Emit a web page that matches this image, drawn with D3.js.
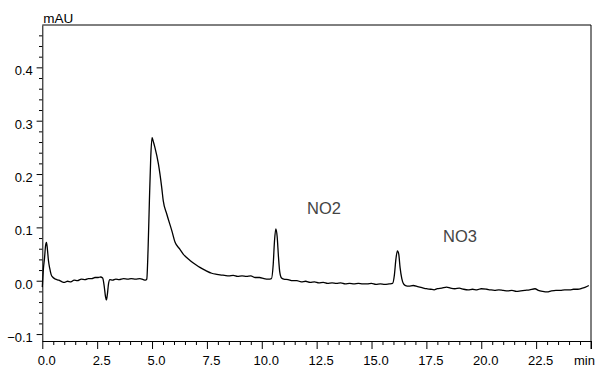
<!DOCTYPE html>
<html lang="en">
<head>
<meta charset="utf-8">
<title>Chromatogram NO2 NO3</title>
<style>
    body { margin: 0; background: #fff; }
    svg text { font-family: "Liberation Sans", Arial, sans-serif; }
</style>
<script src="https://d3js.org/d3.v7.min.js"></script>
</head>
<body>
<div id="viz"></div>
<script>

    // retention time (min) and signal (mAU)
    var times = [
        0.00, 0.05, 0.10, 0.15, 0.19, 0.23, 0.28, 0.34, 0.40, 0.49,
        0.60, 0.75, 0.90, 1.02, 1.15, 1.30, 1.45, 1.60, 1.78, 1.95,
        2.10, 2.25, 2.40, 2.55, 2.65, 2.75, 2.82, 2.88, 2.92, 2.96,
        3.02, 3.08, 3.20, 3.35, 3.50, 3.70, 3.90, 4.05, 4.25, 4.45,
        4.60, 4.70, 4.76, 4.82, 4.88, 4.94, 5.00, 5.05, 5.13, 5.29,
        5.44, 5.51, 5.67, 5.90, 6.05, 6.25, 6.42, 6.73, 7.03, 7.18,
        7.45, 7.72, 7.95, 8.10, 8.30, 8.50, 8.70, 8.90, 9.10, 9.30,
        9.50, 9.70, 9.90, 10.10, 10.30, 10.44, 10.52, 10.58, 10.64, 10.70,
        10.76, 10.82, 10.90, 11.00, 11.20, 11.40, 11.60, 11.80, 12.00, 12.20,
        12.40, 12.60, 12.80, 13.00, 13.20, 13.40, 13.60, 13.80, 14.00, 14.20,
        14.40, 14.60, 14.80, 15.00, 15.20, 15.40, 15.60, 15.80, 15.96, 16.04,
        16.11, 16.18, 16.24, 16.30, 16.38, 16.46, 16.55, 16.70, 16.90, 17.10,
        17.30, 17.50, 17.70, 17.85, 18.00, 18.20, 18.42, 18.60, 18.80, 19.00,
        19.20, 19.40, 19.60, 19.80, 20.00, 20.25, 20.40, 20.60, 20.80, 21.00,
        21.20, 21.40, 21.60, 21.80, 22.00, 22.20, 22.45, 22.60, 22.80, 23.00,
        23.20, 23.40, 23.60, 23.80, 24.04, 24.20, 24.40, 24.60, 24.75, 24.90
    ];
    var signal = [
        -0.012, 0.022, 0.042, 0.066, 0.072, 0.060, 0.038, 0.023, 0.012, 0.006,
        0.003, 0.001, -0.002, -0.003, -0.001, -0.002, 0.001, 0.000, 0.003, 0.002,
        0.004, 0.004, 0.006, 0.006, 0.007, 0.005, -0.010, -0.030, -0.036, -0.027,
        -0.005, 0.002, 0.001, 0.003, 0.002, 0.004, 0.003, 0.004, 0.003, 0.004,
        0.002, 0.001, 0.003, 0.060, 0.150, 0.230, 0.268, 0.262, 0.250, 0.219,
        0.175, 0.150, 0.125, 0.094, 0.072, 0.060, 0.050, 0.038, 0.029, 0.025,
        0.019, 0.014, 0.012, 0.011, 0.010, 0.009, 0.010, 0.008, 0.009, 0.008,
        0.009, 0.006, 0.006, 0.004, 0.003, 0.004, 0.030, 0.075, 0.097, 0.083,
        0.045, 0.016, 0.005, 0.003, 0.002, 0.000, 0.000, -0.002, -0.001, -0.003,
        -0.002, -0.004, -0.003, -0.005, -0.004, -0.005, -0.004, -0.006, -0.005, -0.006,
        -0.005, -0.006, -0.006, -0.005, -0.007, -0.006, -0.007, -0.006, -0.005, 0.010,
        0.040, 0.056, 0.050, 0.025, 0.004, -0.006, -0.009, -0.010, -0.009, -0.011,
        -0.013, -0.015, -0.016, -0.017, -0.015, -0.014, -0.012, -0.014, -0.015, -0.014,
        -0.016, -0.017, -0.016, -0.017, -0.015, -0.016, -0.017, -0.018, -0.017, -0.018,
        -0.019, -0.018, -0.020, -0.019, -0.018, -0.017, -0.015, -0.018, -0.020, -0.021,
        -0.019, -0.018, -0.018, -0.017, -0.017, -0.016, -0.016, -0.014, -0.012, -0.009
    ];

    var xMajor = [0, 2.5, 5, 7.5, 10, 12.5, 15, 17.5, 20, 22.5, 25];
    var xMajorLabels = ["0.0", "2.5", "5.0", "7.5", "10.0", "12.5", "15.0", "17.5", "20.0", "22.5", "min"];
    var yMajor = [-0.1, 0, 0.1, 0.2, 0.3, 0.4];

    var peakNames = ["NO2", "NO3"];
    var peakLabelTime = [12.06, 18.26];
    var peakLabelValue = [0.125, 0.073];

    var width = 600;
    var height = 367;
    var plotLeft = 42.3, plotRight = 591, plotTop = 25, plotBottom = 341;

    var x = d3.scaleLinear().domain([0, 25]).range([plotLeft, plotRight]);
    var y = d3.scaleLinear().domain([-0.113, 0.4794]).range([plotBottom, plotTop]);

    var svg = d3.select("#viz").append("svg")
        .attr("width", width)
        .attr("height", height);

    // minor ticks every 0.5 min and 0.02 mAU
    var xMinor = d3.range(0, 25.01, 0.5).filter(function (d) {
        return Math.abs(d / 2.5 - Math.round(d / 2.5)) > 0.01;
    });
    var yMinor = d3.range(-0.1, 0.465, 0.02).filter(function (d) {
        return Math.abs(d * 10 - Math.round(d * 10)) > 0.01;
    });

    var xAxisMinor = svg.append("g")
        .attr("transform", "translate(0," + plotBottom + ")")
        .call(d3.axisBottom(x).tickValues(xMinor).tickSize(4).tickSizeOuter(0).tickFormat(""));
    xAxisMinor.select(".domain").remove();

    var xAxis = svg.append("g")
        .attr("transform", "translate(0," + plotBottom + ")")
        .call(d3.axisBottom(x).tickValues(xMajor).tickSize(8).tickSizeOuter(0)
            .tickFormat(function (d, i) { return xMajorLabels[i]; }));
    xAxis.selectAll("text")
        .attr("font-size", 13)
        .attr("font-family", "Liberation Sans, Arial, sans-serif")
        .attr("fill", "#000")
        .attr("y", 23.5)
        .attr("dy", 0)
        .attr("dx", function (d) { return d === 25 ? -7 : 4; });

    var yAxisMinor = svg.append("g")
        .attr("transform", "translate(" + plotLeft + ",0)")
        .call(d3.axisLeft(y).tickValues(yMinor).tickSize(3.3).tickSizeOuter(0).tickFormat(""));
    yAxisMinor.select(".domain").remove();

    var yAxis = svg.append("g")
        .attr("transform", "translate(" + plotLeft + ",0)")
        .call(d3.axisLeft(y).tickValues(yMajor).tickSize(5.7).tickSizeOuter(0).tickFormat(d3.format(".1f")));
    yAxis.selectAll("text")
        .attr("font-size", 13)
        .attr("font-family", "Liberation Sans, Arial, sans-serif")
        .attr("fill", "#000")
        .attr("x", -9.5)
        .attr("dy", 7.5);

    svg.selectAll(".domain").attr("stroke", "#000");

    // frame top and right
    svg.append("line")
        .attr("x1", plotLeft).attr("x2", plotRight)
        .attr("y1", plotTop).attr("y2", plotTop)
        .attr("stroke", "#000");
    svg.append("line")
        .attr("x1", plotRight).attr("x2", plotRight)
        .attr("y1", plotTop).attr("y2", plotBottom + 8)
        .attr("stroke", "#000");

    svg.append("text")
        .attr("x", plotLeft + 1)
        .attr("y", 22.5)
        .attr("font-size", 13.5)
        .text("mAU");

    var line = d3.line()
        .x(function (d, i) { return x(times[i]); })
        .y(function (d) { return y(d); })
        .curve(d3.curveMonotoneX);

    svg.append("path")
        .datum(signal)
        .attr("d", line)
        .attr("fill", "none")
        .attr("stroke", "#000")
        .attr("stroke-width", 1.3)
        .attr("stroke-linejoin", "round");

    svg.selectAll(".peak")
        .data(peakNames)
        .enter()
        .append("text")
        .attr("class", "peak")
        .attr("x", function (d, i) { return x(peakLabelTime[i]); })
        .attr("y", function (d, i) { return y(peakLabelValue[i]); })
        .attr("font-size", 16.5)
        .attr("fill", "#444")
        .text(function (d) { return d; });

</script>
</body>
</html>
